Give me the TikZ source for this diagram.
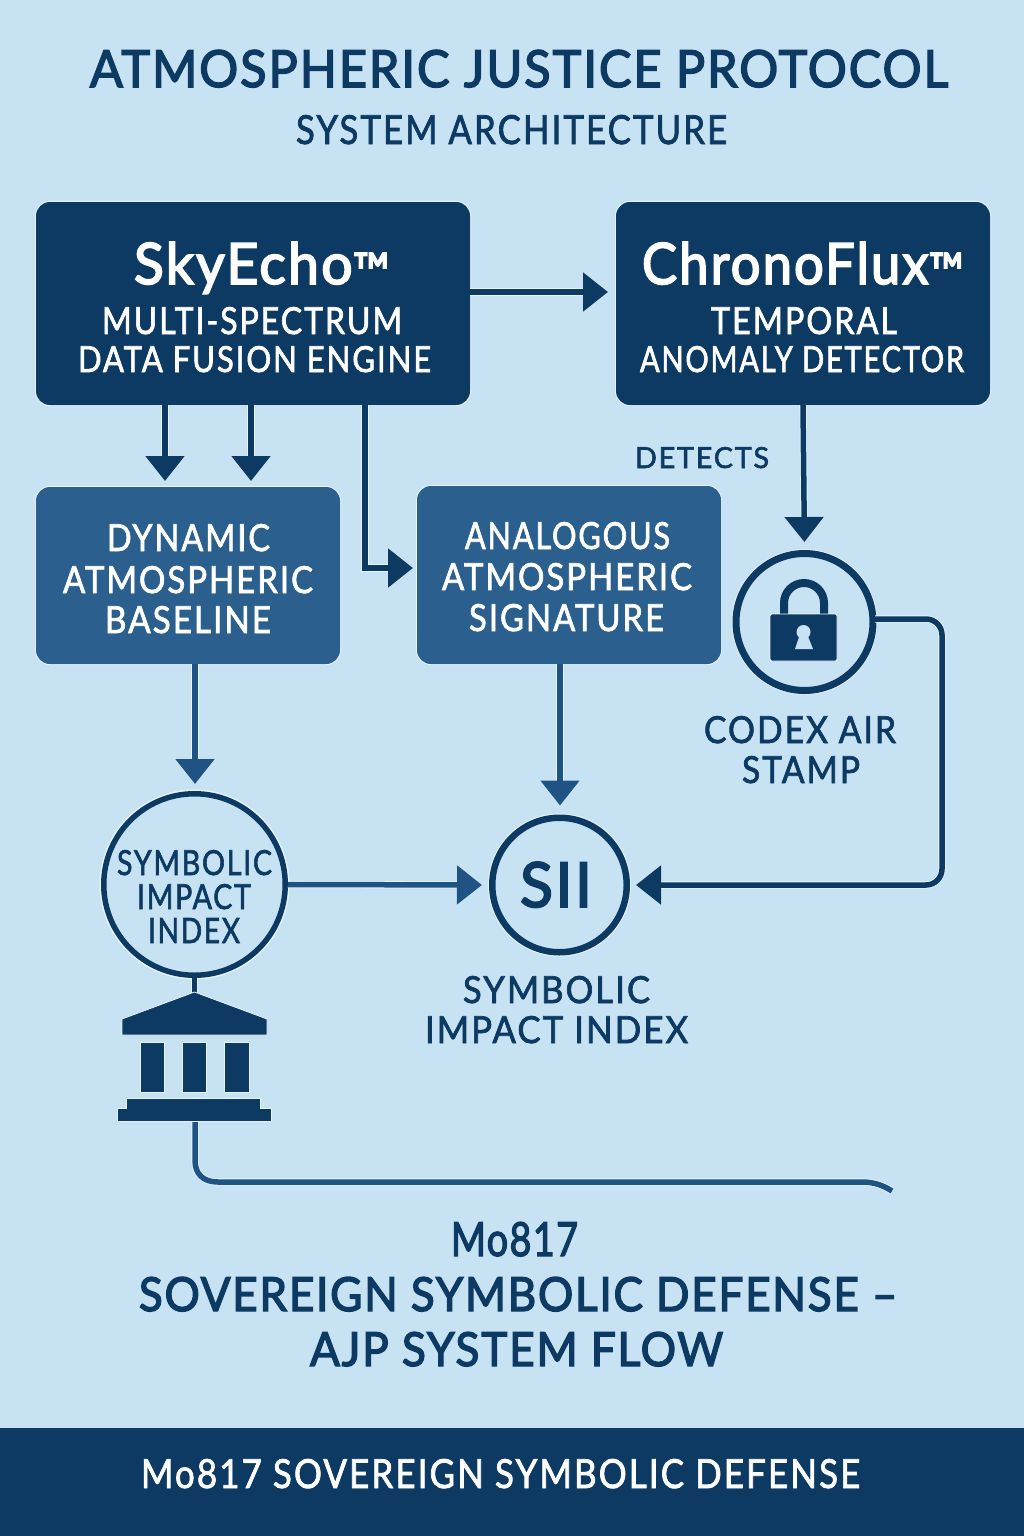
\documentclass[tikz,border=0pt]{standalone}
\usepackage{fontspec}
\usepackage{graphicx}
\usetikzlibrary{arrows.meta}
\setmainfont[FakeBold=3,LetterSpace=4]{Lato}
\newfontfamily\lightface[FakeBold=2,LetterSpace=6]{Lato}
\definecolor{pagebg}{HTML}{C7E3F3}
\definecolor{navy}{HTML}{0D3A63}
\definecolor{midblue}{HTML}{2A5F8E}
\definecolor{linkblue}{HTML}{1F5383}
\definecolor{halo}{HTML}{E6F4FB}
\tikzset{
  box/.style={rounded corners=14pt,inner sep=0pt,outer sep=0pt,minimum width=#1},
  darkbox/.style={box=#1,fill=navy,preaction={draw=halo,line width=2pt}},
  midbox/.style={box=#1,fill=midblue,preaction={draw=halo,line width=2pt}},
  ring/.style={circle,draw=navy,inner sep=0pt,preaction={draw=halo,line width=8.5pt},fill=pagebg},
  solid shape/.style={fill=navy,draw=halo,line width=0.8pt},
  link/.style={line width=#1,preaction={draw=halo,line width=#1+1.6pt}},
  navyarrow/.style={link=5.5pt,draw=navy,-{Triangle[width=38pt,length=25pt]}},
  midarrow/.style={link=5.5pt,draw=linkblue,-{Triangle[width=38pt,length=25pt]}},
  label/.style={anchor=base,inner sep=0pt,outer sep=0pt},
}
% name, centre x, baseline y, width, height, colour, text
\newcommand{\T}[7]{\node[label,text=#6] (#1) at (#2,#3) {\resizebox{#4pt}{#5pt}{#7}};}
\begin{document}
\begin{tikzpicture}[x=1pt,y=-1pt]
\useasboundingbox (0,0) rectangle (1024,1536);
\fill[pagebg] (0,0) rectangle (1024,1536);
\fill[navy] (0,1428) rectangle (1024,1536);

% boxes
\node[darkbox=434pt,minimum height=203pt] (sky) at (253,303.5) {};
\node[darkbox=374pt,minimum height=203pt] (chrono) at (803,303.5) {};
\node[midbox=304pt,minimum height=177pt] (dab) at (188,575.5) {};
\node[midbox=304pt,minimum height=178pt] (ana) at (569,575) {};
\node[ring,line width=7pt,minimum size=137pt,outer sep=3.5pt] (lock) at (804.5,622) {};
\node[ring,line width=5.5pt,minimum size=181.5pt,outer sep=2.75pt] (sib) at (194.5,884.5) {};
\node[ring,line width=6.5pt,minimum size=134.5pt,outer sep=3.25pt] (sii) at (559.5,885) {};

% helper coordinates
\coordinate (c1) at (165,450);
\coordinate (c2) at (251,450);
\coordinate (c3) at (365,450);
\coordinate (c4) at (390,568);
\coordinate (c5) at (195,720);
\coordinate (c6) at (560,720);
\coordinate (c7) at (540,292);
\coordinate (lk0) at (875,619);
\coordinate (lk1) at (942,619);
\coordinate (lk2) at (942,885);
\coordinate (apex) at (194.5,993);
\coordinate (tb) at (195,1121);
\coordinate (te) at (892,1191);

% connectors
\draw[navyarrow,shorten >=8pt] (sky.east |- c7) -- (chrono.west |- c7);
\draw[navyarrow,shorten >=6pt] (sky.south -| c1) -- (dab.north -| c1);
\draw[navyarrow,shorten >=6pt] (sky.south -| c2) -- (dab.north -| c2);
\draw[navyarrow,shorten >=4pt] (sky.south -| c3) |- (ana.west |- c4);
\draw[navyarrow,shorten >=8pt] (chrono.south) -- (lock.north);
\draw[midarrow,shorten >=7pt] (dab.south -| c5) -- (sib.north -| c5);
\draw[midarrow,shorten >=9pt] (ana.south -| c6) -- (sii.north -| c6);
\draw[midarrow,shorten >=7pt] (sib.east) -- (sii.west);
\draw[navyarrow,shorten >=6pt,rounded corners=16pt] (lk0) -- (lk1) -- (lk2) -- (sii.east);
\draw[link=5pt,draw=navy] (sib.south) -- (apex);
\draw[link=5.5pt,draw=linkblue] (tb) -- (195,1160) .. controls (195,1174) and (203,1182) .. (218,1182) -- (862,1182) .. controls (875,1182) and (884,1186) .. (te);

% padlock
\draw[navy,line width=8pt] (784,616) -- (784,603) arc[start angle=180,end angle=0,radius=20pt] -- (824,616);
\fill[navy,draw=halo,line width=0.8pt,rounded corners=2pt] (770,614) rectangle (837,661);
\fill[pagebg] (803.5,632) circle[radius=7pt];
\fill[pagebg] (800,634) -- (795,649) -- (813,649) -- (807,634) -- cycle;

% courthouse
\path[solid shape] (194.5,992) -- (267,1019) -- (267,1035) -- (122,1035) -- (122,1019) -- cycle;
\path[solid shape] (140,1042) rectangle (164,1092);
\path[solid shape] (182,1042) rectangle (206,1092);
\path[solid shape] (224,1042) rectangle (249,1092);
\path[solid shape] (126,1098) -- (260,1098) -- (260,1108) -- (271,1108) -- (271,1121) -- (117,1121) -- (117,1108) -- (126,1108) -- cycle;

% texts
\T{t1}{519}{87}{858}{37}{navy}{ATMOSPHERIC JUSTICE PROTOCOL}
\T{t2}{511.5}{144}{431}{29}{navy}{\lightface SYSTEM ARCHITECTURE}
\T{t3}{262}{284}{256}{42}{white}{SkyEcho\raisebox{-1pt}{\scalebox{0.9}{™}}}
\T{t4}{252}{334}{300}{27}{white}{\lightface MULTI-SPECTRUM}
\T{t5}{254.5}{372}{353}{26}{white}{\lightface DATA FUSION ENGINE}
\T{t6}{803}{284}{322}{42}{white}{ChronoFlux\raisebox{-1pt}{\scalebox{0.9}{™}}}
\T{t7}{804}{334}{186}{27}{white}{\lightface TEMPORAL}
\T{t8}{802}{372}{324}{26}{white}{\lightface ANOMALY DETECTOR}
\T{t9}{702}{468}{134}{21}{navy}{\lightface DETECTS}
\T{t10}{188.5}{551}{163}{27}{white}{\lightface DYNAMIC}
\T{t11}{188}{593}{250}{27}{white}{\lightface ATMOSPHERIC}
\T{t12}{188}{633}{166}{27}{white}{\lightface BASELINE}
\T{t13}{567.5}{549}{205}{27}{white}{\lightface ANALOGOUS}
\T{t14}{567}{590}{250}{27}{white}{\lightface ATMOSPHERIC}
\T{t15}{566.5}{631}{195}{27}{white}{\lightface SIGNATURE}
\T{t16}{800}{743}{192}{27}{navy}{\lightface CODEX AIR}
\T{t17}{801}{783}{118}{27}{navy}{\lightface STAMP}
\T{t18}{194.5}{875}{155}{25}{navy}{\lightface SYMBOLIC}
\T{t19}{194}{909}{114}{25}{navy}{\lightface IMPACT}
\T{t20}{194}{943}{92}{25}{navy}{\lightface INDEX}
\T{t21}{556}{907}{72}{45}{navy}{SII}
\T{t22}{556.5}{1003}{187}{27}{navy}{\lightface SYMBOLIC}
\T{t23}{556.5}{1043}{263}{27}{navy}{\lightface IMPACT INDEX}
\T{t24}{514.5}{1256}{127}{34}{navy}{Mo817}
\T{t25}{518}{1311}{758}{34}{navy}{SOVEREIGN SYMBOLIC DEFENSE –}
\T{t26}{516.5}{1366}{413}{34}{navy}{AJP SYSTEM FLOW}
\T{t27}{500.5}{1488}{719}{29}{white}{\lightface Mo817 SOVEREIGN SYMBOLIC DEFENSE}
\end{tikzpicture}
\end{document}
